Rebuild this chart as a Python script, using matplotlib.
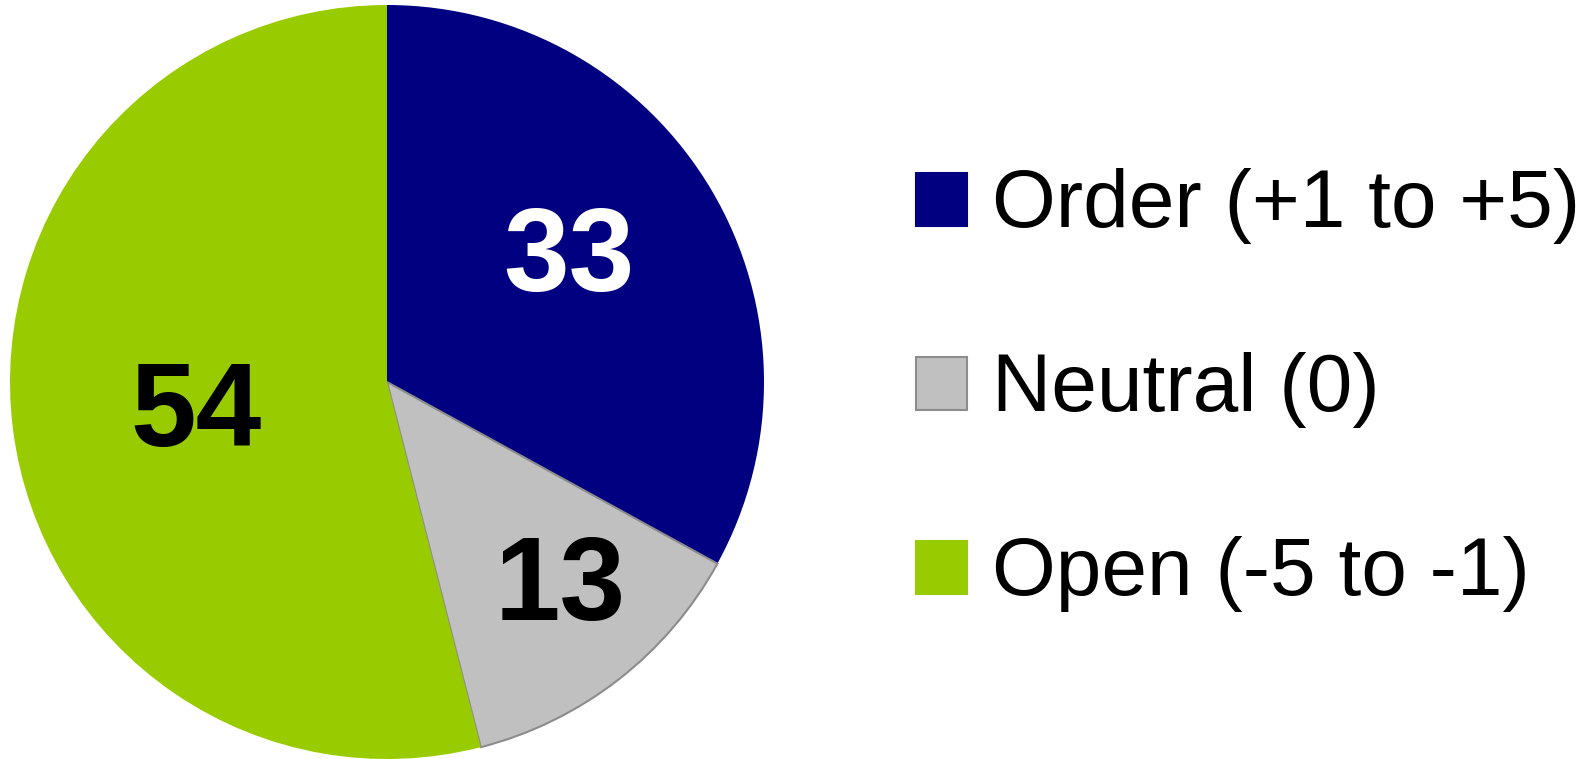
import matplotlib.pyplot as plt
from matplotlib.patches import Rectangle
import numpy as np

labels = ["Order (+1 to +5)", "Neutral (0)", "Open (-5 to -1)"]
values = [33, 13, 54]
colors = ["#000080", "#C0C0C0", "#99CC00"]
edges = ["none", "#8C8C8C", "none"]
textcolors = ["white", "black", "black"]

W, H = 1596, 759
fig = plt.figure(figsize=(W / 100, H / 100), dpi=100)

# pie area in pixels
cx, cy, r = 387, 382, 377
ax = fig.add_axes([(cx - r) / W, (H - cy - r) / H, 2 * r / W, 2 * r / H])
wedges, _ = ax.pie(values, colors=colors, startangle=90, counterclock=False,
                   radius=1, wedgeprops=dict(linewidth=1.5))
for w, ec in zip(wedges, edges):
    w.set_edgecolor(ec)
ax.set_xlim(-1, 1)
ax.set_ylim(-1, 1)
ax.set_aspect("equal")
ax.axis("off")

# value labels
lab_dist = [0.6, 0.69, 0.51]
lab_shift = [6, 4, -1]  # degrees
for w, v, tc, d, s in zip(wedges, values, textcolors, lab_dist, lab_shift):
    ang = np.deg2rad((w.theta1 + w.theta2) / 2 + s)
    ax.text(d * np.cos(ang), d * np.sin(ang) - 0.035, str(v), color=tc,
            fontsize=85, fontweight="bold", family="Liberation Sans",
            ha="center", va="center")

# legend
rows_y = [200, 384, 568]
for lab, c, ec, y in zip(labels, colors, edges, rows_y):
    fig.patches.append(Rectangle((916 / W, (H - y - 26) / H), 51 / W, 53 / H,
                                 facecolor=c, edgecolor=ec if ec != "none" else c,
                                 linewidth=1.5, transform=fig.transFigure))
    fig.text(992 / W, (H - y + 2) / H, lab, fontsize=59, family="Liberation Sans",
             ha="left", va="center_baseline")

fig.savefig("out.png", dpi=100)
